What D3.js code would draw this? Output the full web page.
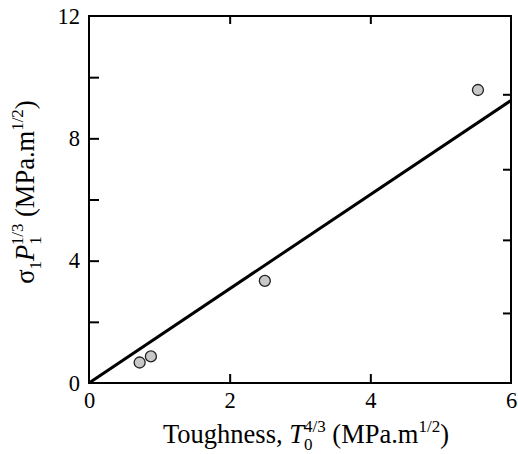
<!DOCTYPE html>
<html>
<head>
<meta charset="utf-8">
<script src="https://cdn.jsdelivr.net/npm/d3@7"></script>
<style>
  body { margin: 0; background: #fff; }
</style>
</head>
<body>
<div id="chart"></div>
<script>
// measured points (toughness^4/3 vs sigma1*P1^1/3)
const xVals = [0.72, 0.88, 2.5, 5.53]
const yVals = [0.67, 0.87, 3.34, 9.58]
const fitSlope = 1.54

const xTicks = [0, 2, 4, 6]
const yTicks = [0, 2, 4, 6, 8, 10, 12]
const yLabelled = [0, 4, 8, 12]
const rightTicks = [2.29, 4.68, 6.99, 9.44]

const serif = "Liberation Serif, Times New Roman, serif"

const margin = ({ top: 16, right: 7, bottom: 71, left: 89 })
const width = 518 - margin.left - margin.right,
    height = 454 - margin.top - margin.bottom;

let svg = d3.select("#chart").append("svg")
    .attr("width", 518)
    .attr("height", 454)
    .style("font-family", serif)

let g = svg.append("g")
    .attr("transform", "translate(" + margin.left + "," + margin.top + ")");

let x = d3.scaleLinear().domain([0, 6]).range([0, width])
let y = d3.scaleLinear().domain([0, 12]).range([height, 0])

// axes (ticks point inwards)
let xAxis = g.append("g")
    .attr("transform", "translate(0," + height + ")")
    .call(d3.axisBottom(x).tickValues(xTicks).tickSize(-9).tickPadding(9)
        .tickFormat(d3.format("d")))
let yAxis = g.append("g")
    .call(d3.axisLeft(y).tickValues(yTicks).tickSize(-10).tickPadding(9)
        .tickFormat(d => yLabelled.includes(d) ? d : ""))
let topAxis = g.append("g")
    .call(d3.axisTop(x).tickValues([2, 4]).tickSize(-8).tickFormat(""))
let rightAxis = g.append("g")
    .attr("transform", "translate(" + width + ",0)")
    .call(d3.axisRight(y).tickValues(rightTicks).tickSize(-8).tickFormat(""))

for (let a of [xAxis, yAxis, topAxis, rightAxis]) {
    a.select(".domain").remove()
    a.attr("font-family", serif).attr("font-size", 22.5)
    a.selectAll("line").attr("stroke", "#000").attr("stroke-width", 2)
}
// hide end ticks on the bottom / left that sit on the frame
xAxis.selectAll(".tick line").filter(d => d === 0 || d === 6).remove()
yAxis.selectAll(".tick line").filter(d => d === 0 || d === 12).remove()

g.append("rect")
    .attr("width", width)
    .attr("height", height)
    .attr("fill", "none")
    .attr("stroke", "#000")
    .attr("stroke-width", 2)

// fitted line through origin
g.append("line")
    .attr("x1", x(0)).attr("y1", y(0))
    .attr("x2", x(6)).attr("y2", y(6 * fitSlope))
    .attr("stroke", "#000")
    .attr("stroke-width", 3)

let pts = xVals.map((v, i) => ({ x: v, y: yVals[i] }))
g.selectAll(".pt")
    .data(pts)
    .enter()
    .append("circle")
    .attr("class", "pt")
    .attr("cx", d => x(d.x))
    .attr("cy", d => y(d.y))
    .attr("r", 5.5)
    .attr("fill", "#c8c8c8")
    .attr("stroke", "#222")
    .attr("stroke-width", 1.3)

// x title
let xt = svg.append("text")
    .attr("x", 306)
    .attr("y", 443)
    .attr("text-anchor", "middle")
    .attr("font-family", serif)
    .attr("font-size", 26.5)
xt.append("tspan").text("Toughness, ")
xt.append("tspan").attr("font-style", "italic").text("T")
xt.append("tspan").attr("font-size", 17).attr("dy", 7).text("0")
xt.append("tspan").attr("font-size", 17).attr("dx", -8.5).attr("dy", -18).text("4/3")
xt.append("tspan").attr("dy", 11).text(" (MPa.m")
xt.append("tspan").attr("font-size", 17).attr("dy", -11).text("1/2")
xt.append("tspan").attr("dy", 11).text(")")

// y title
let yt = svg.append("text")
    .attr("transform", "translate(34,192) rotate(-90)")
    .attr("text-anchor", "middle")
    .attr("font-family", serif)
    .attr("font-size", 26.5)
yt.append("tspan").text("σ")
yt.append("tspan").attr("font-size", 17).attr("dy", 7).text("1")
yt.append("tspan").attr("font-style", "italic").attr("dy", -7).text("P")
yt.append("tspan").attr("font-size", 17).attr("dy", 7).text("1")
yt.append("tspan").attr("font-size", 17).attr("dx", -8.5).attr("dy", -18).text("1/3")
yt.append("tspan").attr("dy", 11).text(" (MPa.m")
yt.append("tspan").attr("font-size", 17).attr("dy", -11).text("1/2")
yt.append("tspan").attr("dy", 11).text(")")
</script>
</body>
</html>
